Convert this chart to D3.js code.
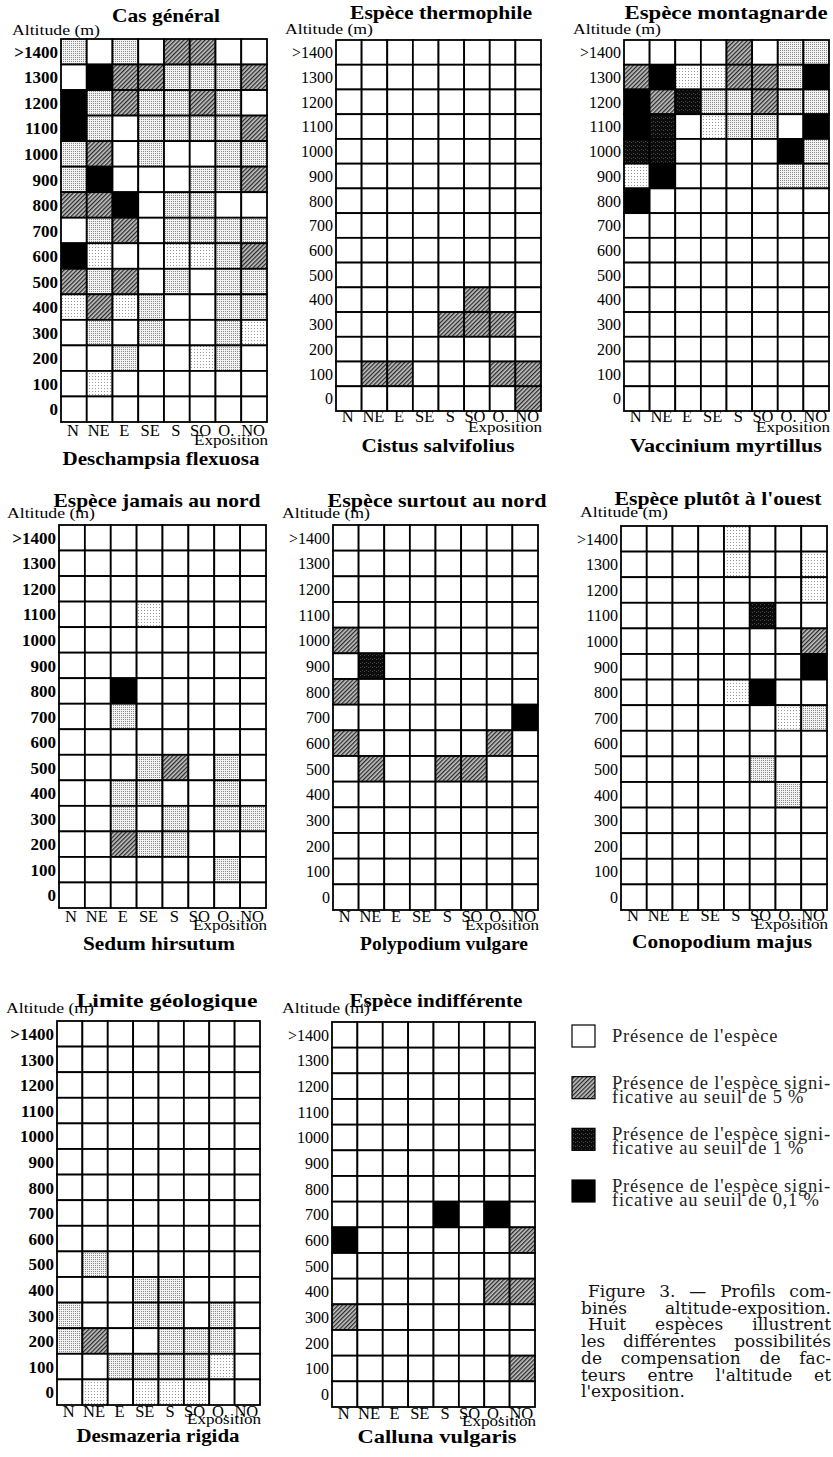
<!DOCTYPE html>
<html lang="fr">
<head>
<meta charset="UTF-8">
<title>Profils combinés altitude-exposition</title>
<script src="https://d3js.org/d3.v7.min.js"></script>
<style>
    body { margin: 0; background: #fff; }
    svg { display: block; font-family: "Liberation Serif", "Times New Roman", serif; }
</style>
</head>
<body>
<div id="chart"></div>
<script>
// Expositions (colonnes) et tranches d'altitude (lignes, du haut vers le bas)
const exposures = ["N", "NE", "E", "SE", "S", "SO", "O", "NO"];
const altitudes = [">1400", "1300", "1200", "1100", "1000", "900", "800", "700",
                   "600", "500", "400", "300", "200", "100", "0"];

// codes : 0 présence, 1 trame très légère, 2 trame légère,
//         3 seuil 5 %, 4 seuil 1 %, 5 seuil 0,1 %
const deschampsia = [
    [2, 0, 2, 0, 3, 3, 0, 0],
    [0, 5, 3, 3, 2, 2, 2, 3],
    [5, 2, 3, 2, 2, 3, 2, 0],
    [5, 2, 0, 2, 2, 2, 2, 3],
    [2, 3, 0, 2, 0, 0, 2, 2],
    [2, 5, 0, 0, 0, 2, 2, 3],
    [3, 3, 5, 0, 2, 2, 0, 0],
    [0, 2, 3, 0, 2, 2, 2, 2],
    [5, 1, 0, 0, 1, 1, 2, 3],
    [3, 2, 3, 0, 2, 0, 2, 2],
    [1, 3, 1, 2, 0, 0, 2, 2],
    [0, 2, 0, 2, 0, 0, 2, 1],
    [0, 0, 2, 0, 0, 1, 2, 0],
    [0, 1, 0, 0, 0, 0, 0, 0],
    [0, 0, 0, 0, 0, 0, 0, 0]
];
const cistus = [
    [0, 0, 0, 0, 0, 0, 0, 0],
    [0, 0, 0, 0, 0, 0, 0, 0],
    [0, 0, 0, 0, 0, 0, 0, 0],
    [0, 0, 0, 0, 0, 0, 0, 0],
    [0, 0, 0, 0, 0, 0, 0, 0],
    [0, 0, 0, 0, 0, 0, 0, 0],
    [0, 0, 0, 0, 0, 0, 0, 0],
    [0, 0, 0, 0, 0, 0, 0, 0],
    [0, 0, 0, 0, 0, 0, 0, 0],
    [0, 0, 0, 0, 0, 0, 0, 0],
    [0, 0, 0, 0, 0, 3, 0, 0],
    [0, 0, 0, 0, 3, 3, 3, 0],
    [0, 0, 0, 0, 0, 0, 0, 0],
    [0, 3, 3, 0, 0, 0, 3, 3],
    [0, 0, 0, 0, 0, 0, 0, 3]
];
const vaccinium = [
    [0, 0, 0, 0, 3, 0, 2, 2],
    [3, 5, 1, 1, 3, 3, 2, 5],
    [5, 3, 4, 2, 2, 3, 2, 2],
    [5, 4, 0, 1, 2, 2, 0, 5],
    [4, 4, 0, 0, 0, 0, 5, 2],
    [1, 5, 0, 0, 0, 0, 2, 2],
    [5, 0, 0, 0, 0, 0, 0, 0],
    [0, 0, 0, 0, 0, 0, 0, 0],
    [0, 0, 0, 0, 0, 0, 0, 0],
    [0, 0, 0, 0, 0, 0, 0, 0],
    [0, 0, 0, 0, 0, 0, 0, 0],
    [0, 0, 0, 0, 0, 0, 0, 0],
    [0, 0, 0, 0, 0, 0, 0, 0],
    [0, 0, 0, 0, 0, 0, 0, 0],
    [0, 0, 0, 0, 0, 0, 0, 0]
];
const sedum = [
    [0, 0, 0, 0, 0, 0, 0, 0],
    [0, 0, 0, 0, 0, 0, 0, 0],
    [0, 0, 0, 0, 0, 0, 0, 0],
    [0, 0, 0, 1, 0, 0, 0, 0],
    [0, 0, 0, 0, 0, 0, 0, 0],
    [0, 0, 0, 0, 0, 0, 0, 0],
    [0, 0, 5, 0, 0, 0, 0, 0],
    [0, 0, 2, 0, 0, 0, 0, 0],
    [0, 0, 0, 0, 0, 0, 0, 0],
    [0, 0, 0, 2, 3, 0, 2, 0],
    [0, 0, 2, 2, 0, 0, 2, 0],
    [0, 0, 2, 0, 2, 0, 2, 2],
    [0, 0, 3, 2, 2, 0, 0, 0],
    [0, 0, 0, 0, 0, 0, 2, 0],
    [0, 0, 0, 0, 0, 0, 0, 0]
];
const polypodium = [
    [0, 0, 0, 0, 0, 0, 0, 0],
    [0, 0, 0, 0, 0, 0, 0, 0],
    [0, 0, 0, 0, 0, 0, 0, 0],
    [0, 0, 0, 0, 0, 0, 0, 0],
    [3, 0, 0, 0, 0, 0, 0, 0],
    [0, 4, 0, 0, 0, 0, 0, 0],
    [3, 0, 0, 0, 0, 0, 0, 0],
    [0, 0, 0, 0, 0, 0, 0, 5],
    [3, 0, 0, 0, 0, 0, 3, 0],
    [0, 3, 0, 0, 3, 3, 0, 0],
    [0, 0, 0, 0, 0, 0, 0, 0],
    [0, 0, 0, 0, 0, 0, 0, 0],
    [0, 0, 0, 0, 0, 0, 0, 0],
    [0, 0, 0, 0, 0, 0, 0, 0],
    [0, 0, 0, 0, 0, 0, 0, 0]
];
const conopodium = [
    [0, 0, 0, 0, 1, 0, 0, 0],
    [0, 0, 0, 0, 1, 0, 0, 1],
    [0, 0, 0, 0, 0, 0, 0, 1],
    [0, 0, 0, 0, 0, 4, 0, 0],
    [0, 0, 0, 0, 0, 0, 0, 3],
    [0, 0, 0, 0, 0, 0, 0, 5],
    [0, 0, 0, 0, 1, 5, 0, 0],
    [0, 0, 0, 0, 0, 0, 1, 2],
    [0, 0, 0, 0, 0, 0, 0, 0],
    [0, 0, 0, 0, 0, 2, 0, 0],
    [0, 0, 0, 0, 0, 0, 2, 0],
    [0, 0, 0, 0, 0, 0, 0, 0],
    [0, 0, 0, 0, 0, 0, 0, 0],
    [0, 0, 0, 0, 0, 0, 0, 0],
    [0, 0, 0, 0, 0, 0, 0, 0]
];
const desmazeria = [
    [0, 0, 0, 0, 0, 0, 0, 0],
    [0, 0, 0, 0, 0, 0, 0, 0],
    [0, 0, 0, 0, 0, 0, 0, 0],
    [0, 0, 0, 0, 0, 0, 0, 0],
    [0, 0, 0, 0, 0, 0, 0, 0],
    [0, 0, 0, 0, 0, 0, 0, 0],
    [0, 0, 0, 0, 0, 0, 0, 0],
    [0, 0, 0, 0, 0, 0, 0, 0],
    [0, 0, 0, 0, 0, 0, 0, 0],
    [0, 2, 0, 0, 0, 0, 0, 0],
    [0, 0, 0, 2, 2, 0, 0, 0],
    [2, 0, 0, 2, 2, 0, 2, 0],
    [2, 3, 0, 0, 2, 2, 2, 0],
    [0, 0, 2, 2, 2, 2, 1, 0],
    [0, 1, 0, 1, 1, 1, 0, 0]
];
const calluna = [
    [0, 0, 0, 0, 0, 0, 0, 0],
    [0, 0, 0, 0, 0, 0, 0, 0],
    [0, 0, 0, 0, 0, 0, 0, 0],
    [0, 0, 0, 0, 0, 0, 0, 0],
    [0, 0, 0, 0, 0, 0, 0, 0],
    [0, 0, 0, 0, 0, 0, 0, 0],
    [0, 0, 0, 0, 0, 0, 0, 0],
    [0, 0, 0, 0, 5, 0, 5, 0],
    [5, 0, 0, 0, 0, 0, 0, 3],
    [0, 0, 0, 0, 0, 0, 0, 0],
    [0, 0, 0, 0, 0, 0, 3, 3],
    [3, 0, 0, 0, 0, 0, 0, 0],
    [0, 0, 0, 0, 0, 0, 0, 0],
    [0, 0, 0, 0, 0, 0, 0, 3],
    [0, 0, 0, 0, 0, 0, 0, 0]
];

const matrices = [deschampsia, cistus, vaccinium, sedum, polypodium, conopodium, desmazeria, calluna];
const titles = ["Cas général", "Espèce thermophile", "Espèce montagnarde",
                "Espèce jamais au nord", "Espèce surtout au nord", "Espèce plutôt à l'ouest",
                "Limite géologique", "Espèce indifférente"];
const speciesNames = ["Deschampsia flexuosa", "Cistus salvifolius", "Vaccinium myrtillus",
                      "Sedum hirsutum", "Polypodium vulgare", "Conopodium majus",
                      "Desmazeria rigida", "Calluna vulgaris"];

const legendCodes = [0, 3, 4, 5];
const legendLabels = [
    ["Présence de l'espèce"],
    ["Présence de l'espèce signi-", "ficative au seuil de 5 %"],
    ["Présence de l'espèce signi-", "ficative au seuil de 1 %"],
    ["Présence de l'espèce signi-", "ficative au seuil de 0,1 %"]
];
const captionLines = [
    "Figure 3. — Profils com-",
    "binés altitude-exposition.",
    "Huit espèces illustrent",
    "les différentes possibilités",
    "de compensation de fac-",
    "teurs entre l'altitude et",
    "l'exposition."
];

// Mise en page des 8 panneaux (position de la grille et des textes)
const layout = [
    {gx: 61,  gy: 39,   gw: 206, gh: 383, tx: 166, ty: 22,   tw: 108, ax: 12,  ay: 35,   lab: 14, expo: 23, sx: 161, sy: 465,  sw: 197, bold: true},
    {gx: 336, gy: 40,   gw: 205, gh: 371, tx: 441, ty: 19,   tw: 182, ax: 285, ay: 34,   lab: 11, expo: 21, sx: 438, sy: 452,  sw: 153, bold: false},
    {gx: 624, gy: 40,   gw: 205, gh: 371, tx: 726, ty: 19,   tw: 203, ax: 573, ay: 34,   lab: 11, expo: 21, sx: 726, sy: 452,  sw: 192, bold: false},
    {gx: 59,  gy: 525,  gw: 207, gh: 383, tx: 157, ty: 507,  tw: 207, ax: 7,   ay: 518,  lab: 14, expo: 22, sx: 159, sy: 950,  sw: 152, bold: true},
    {gx: 333, gy: 525,  gw: 205, gh: 385, tx: 437, ty: 507,  tw: 219, ax: 282, ay: 518,  lab: 12, expo: 20, sx: 444, sy: 950,  sw: 168, bold: false},
    {gx: 621, gy: 526,  gw: 206, gh: 384, tx: 718, ty: 505,  tw: 207, ax: 580, ay: 517,  lab: 11, expo: 19, sx: 722, sy: 948,  sw: 180, bold: false},
    {gx: 57,  gy: 1021, gw: 203, gh: 384, tx: 167, ty: 1007, tw: 181, ax: 6,   ay: 1013, lab: 12, expo: 19, sx: 158, sy: 1442, sw: 163, bold: true},
    {gx: 332, gy: 1022, gw: 203, gh: 385, tx: 436, ty: 1007, tw: 173, ax: 282, ay: 1013, lab: 12, expo: 19, sx: 437, sy: 1443, sw: 159, bold: false}
];

const svg = d3.select("#chart").append("svg")
    .attr("width", 833)
    .attr("height", 1457);

svg.append("rect").attr("width", 833).attr("height", 1457).attr("fill", "#fff");

// Trames
const defs = svg.append("defs");
function dots(id, size, bg, dot, pts) {
    const p = defs.append("pattern").attr("id", id)
        .attr("width", size).attr("height", size)
        .attr("patternUnits", "userSpaceOnUse");
    p.append("rect").attr("width", size).attr("height", size).attr("fill", bg);
    pts.forEach(([x, y]) => p.append("rect").attr("x", x).attr("y", y)
        .attr("width", 1).attr("height", 1).attr("fill", dot));
}
dots("faint", 3, "#fff", "#9a9a9a", [[1, 1]]);
dots("light", 2, "#f2f2f2", "#8a8a8a", [[0, 0]]);
dots("dark", 4, "#0c0c0c", "#4a4a4a", [[1, 1], [3, 2]]);
const hatch = defs.append("pattern").attr("id", "hatch")
    .attr("width", 3).attr("height", 3)
    .attr("patternUnits", "userSpaceOnUse")
    .attr("patternTransform", "rotate(45)");
hatch.append("rect").attr("width", 3).attr("height", 3).attr("fill", "#c4c4c4");
hatch.append("rect").attr("width", 1.3).attr("height", 3).attr("fill", "#2a2a2a");

const fills = ["#ffffff", "url(#faint)", "url(#light)", "url(#hatch)", "url(#dark)", "#000000"];

matrices.forEach((m, i) => {
    const L = layout[i];
    const g = svg.append("g").attr("transform", `translate(${L.gx},${L.gy})`);

    const x = d3.scaleBand().domain(exposures).range([0, L.gw]);
    const y = d3.scaleBand().domain(altitudes).range([0, L.gh]);

    const cells = [];
    m.forEach((row, r) => row.forEach((v, c) => cells.push({alt: altitudes[r], exp: exposures[c], v})));

    g.selectAll("rect.cell")
        .data(cells)
        .enter().append("rect")
        .attr("class", "cell")
        .attr("x", d => x(d.exp))
        .attr("y", d => y(d.alt))
        .attr("width", x.bandwidth())
        .attr("height", y.bandwidth())
        .attr("fill", d => fills[d.v])
        .attr("stroke", "#000")
        .attr("stroke-width", 1.8);

    // axe des altitudes
    const ya = g.append("g")
        .call(d3.axisLeft(y).tickSize(0).tickPadding(3))
        .attr("font-family", null)
        .attr("font-size", null);
    ya.select(".domain").remove();
    ya.selectAll("text")
        .attr("fill", "#000")
        .style("font-size", L.bold ? "17px" : "16px")
        .style("font-weight", L.bold ? "bold" : "normal")
        .attr("dy", "0.36em");

    // axe des expositions
    const xa = g.append("g")
        .attr("transform", `translate(0,${L.gh})`)
        .call(d3.axisBottom(x).tickSize(0).tickFormat(d => d === "O" ? "O." : d))
        .attr("font-family", null)
        .attr("font-size", null);
    xa.select(".domain").remove();
    xa.selectAll("text")
        .attr("fill", "#000")
        .attr("dy", null)
        .attr("y", L.lab)
        .attr("dx", d => (d === "O" || d === "SO") ? -2 : -1)
        .style("font-size", "16.5px");

    g.append("text")
        .attr("x", L.gw + 1)
        .attr("y", L.gh + L.expo)
        .attr("text-anchor", "end")
        .attr("textLength", 74)
        .attr("lengthAdjust", "spacingAndGlyphs")
        .style("font-size", "15px")
        .attr("fill", "#000")
        .text("Exposition");

    svg.append("text")
        .attr("x", L.tx)
        .attr("y", L.ty)
        .attr("text-anchor", "middle")
        .attr("textLength", L.tw)
        .attr("lengthAdjust", "spacingAndGlyphs")
        .style("font-size", "19px")
        .style("font-weight", "bold")
        .attr("fill", "#000")
        .text(titles[i]);

    svg.append("text")
        .attr("x", L.ax)
        .attr("y", L.ay)
        .attr("textLength", 88)
        .attr("lengthAdjust", "spacingAndGlyphs")
        .style("font-size", "15px")
        .attr("fill", "#000")
        .text("Altitude (m)");

    svg.append("text")
        .attr("x", L.sx)
        .attr("y", L.sy)
        .attr("text-anchor", "middle")
        .attr("textLength", L.sw)
        .attr("lengthAdjust", "spacingAndGlyphs")
        .style("font-size", "18px")
        .style("font-weight", "bold")
        .attr("fill", "#000")
        .text(speciesNames[i]);
});

// Légende
const legendY = d3.scalePoint().domain(d3.range(legendCodes.length)).range([1036, 1191]);
const legend = svg.append("g");
legendCodes.forEach((code, k) => {
    const cy = legendY(k);
    legend.append("rect")
        .attr("x", 572).attr("y", cy - 11)
        .attr("width", 23).attr("height", 22)
        .attr("fill", fills[code])
        .attr("stroke", "#000")
        .attr("stroke-width", 1.2);
    const lines = legendLabels[k];
    lines.forEach((t, j) => {
        const txt = legend.append("text")
            .attr("x", 612)
            .attr("y", cy + (lines.length === 1 ? 6 : 1 + j * 14))
            .style("font-size", "18.5px")
            .style("letter-spacing", "0.8px")
            .attr("fill", "#222")
            .text(t);
        if (lines.length > 1 && j === 0) {
            txt.attr("textLength", 219).attr("lengthAdjust", "spacingAndGlyphs");
        }
    });
});

// Légende de la figure, justifiée par l'espacement des mots
const caption = svg.append("g").style("font-family", "'DejaVu Serif', serif");
captionLines.forEach((t, k) => {
    const indent = (k === 0 || k === 2) ? 588 : 581;
    const txt = caption.append("text")
        .attr("x", indent)
        .attr("y", 1297 + k * 16.7)
        .style("font-size", "17px")
        .attr("fill", "#111")
        .text(t);
    if (k < captionLines.length - 1) {
        const target = 831 - indent;
        let w = txt.node().getComputedTextLength();
        if (w > target) {
            txt.attr("textLength", target).attr("lengthAdjust", "spacingAndGlyphs");
        } else {
            const spaces = (t.match(/ /g) || []).length;
            txt.style("word-spacing", ((target - w) / spaces) + "px");
        }
    }
});
</script>
</body>
</html>
